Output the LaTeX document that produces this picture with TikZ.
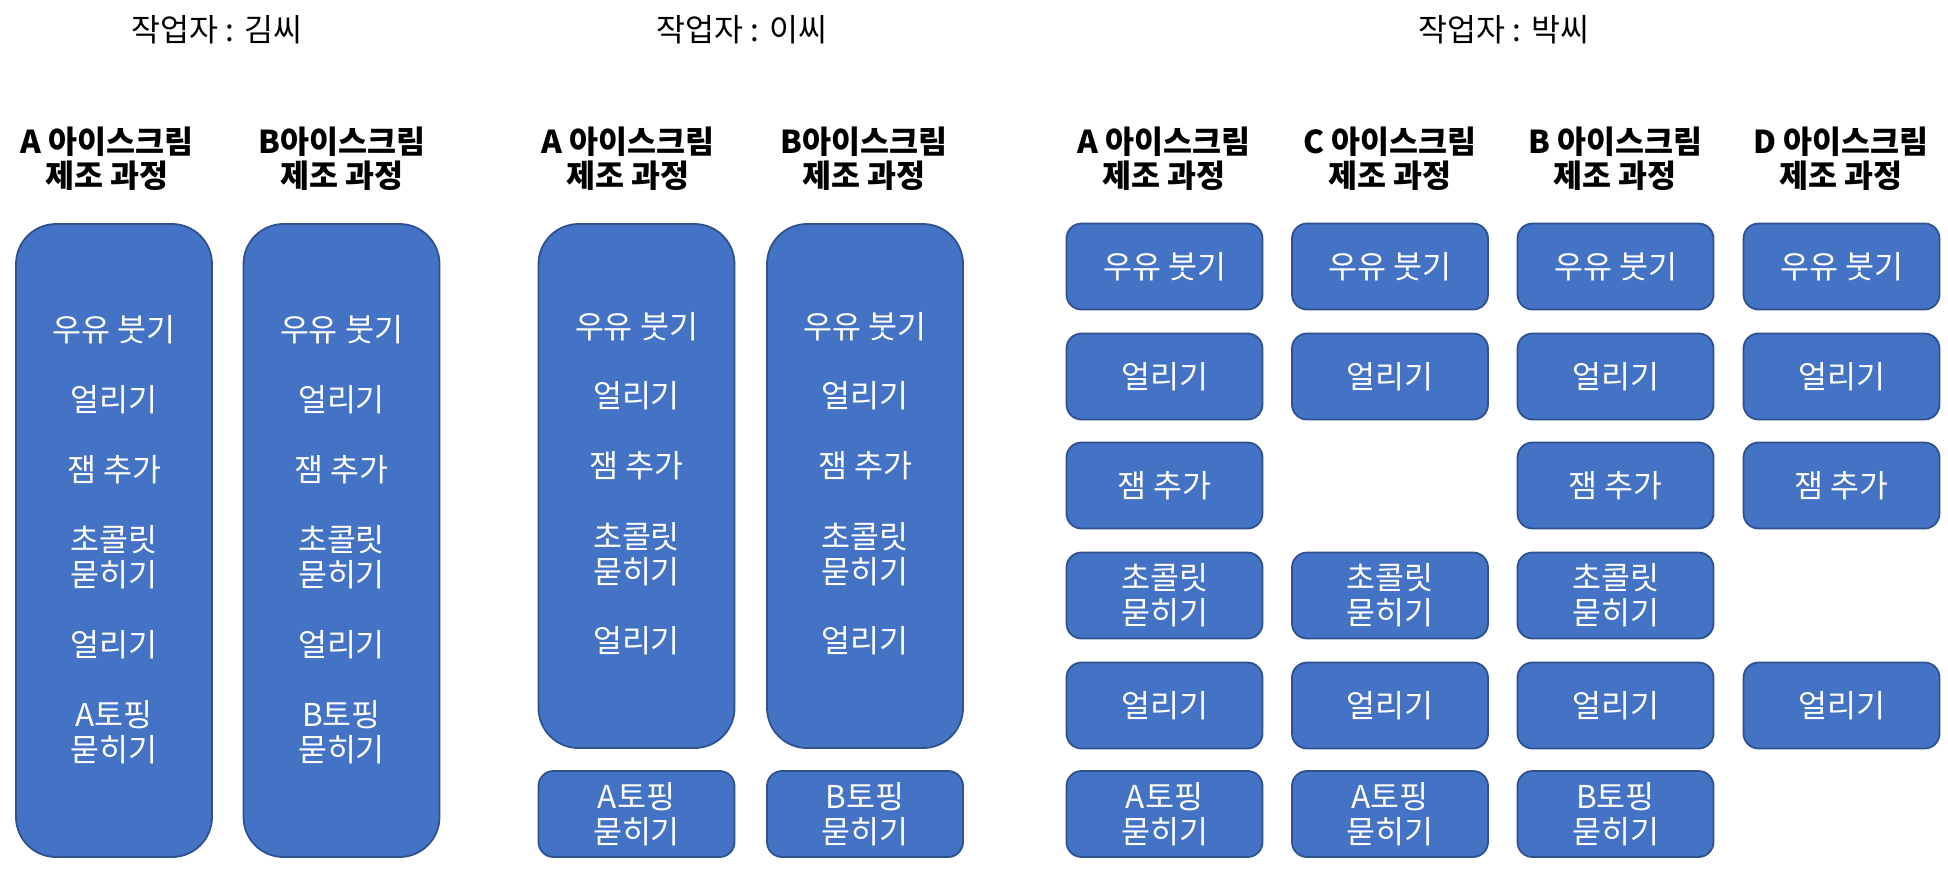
\documentclass[tikz,border=0pt]{standalone}
\usepackage{fontspec}
\setmainfont{Noto Sans CJK KR}
\definecolor{boxfill}{HTML}{4472C4}
\definecolor{boxborder}{HTML}{2F528F}
\tikzset{
  txt/.style={font=\fontsize{31.5}{34.8}\selectfont},
  box/.style={draw=boxborder, fill=boxfill, line width=1.8pt, rounded corners=15pt,
    minimum width=196pt, minimum height=86pt, inner sep=0pt, text=white, align=center, txt},
  bigbox/.style={draw=boxborder, fill=boxfill, line width=1.8pt, rounded corners=40pt,
    minimum width=196pt, inner sep=0pt},
  lbl/.style={text=white, align=center, inner sep=0pt, txt},
  hdr/.style={align=center, inner sep=0pt, font=\bfseries\fontsize{31.5}{33.5}\selectfont},
  ttl/.style={inner sep=0pt, txt}
}
\begin{document}
\begin{tikzpicture}[x=1pt,y=-1pt]
\useasboundingbox (0,0) rectangle (1948,868);
% titles
\node[ttl] (t1) at (217,29.5) {작업자 : 김씨};
\node[ttl] (t2) at (742,29.5) {작업자 : 이씨};
\node[ttl] (t3) at (1504,29.5) {작업자 : 박씨};
% headers
\node[hdr] (h1) at (107,158.5) {A 아이스크림\\제조 과정};
\node[hdr] (h2) at (342,158.5) {B아이스크림\\제조 과정};
\node[hdr] (h3) at (628,158.5) {A 아이스크림\\제조 과정};
\node[hdr] (h4) at (864,158.5) {B아이스크림\\제조 과정};
\node[hdr] (h5) at (1164,158.5) {A 아이스크림\\제조 과정};
\node[hdr] (h6) at (1390,158.5) {C 아이스크림\\제조 과정};
\node[hdr] (h7) at (1615,158.5) {B 아이스크림\\제조 과정};
\node[hdr] (h8) at (1841,158.5) {D 아이스크림\\제조 과정};
% Kim
\node[bigbox, minimum height=633pt] (kA) at (114,540.5) {};
\node[bigbox, minimum height=633pt] (kB) at (341.5,540.5) {};
\foreach \x/\n in {114/ka,341.5/kb}{
  \node[lbl] (\n1) at (\x,330) {우유 붓기};
  \node[lbl] (\n2) at (\x,400) {얼리기};
  \node[lbl] (\n3) at (\x,470) {잼 추가};
  \node[lbl] (\n4) at (\x,557) {초콜릿\\묻히기};
  \node[lbl] (\n5) at (\x,645) {얼리기};
}
\node[lbl] (ka6) at (114,732) {A토핑\\묻히기};
\node[lbl] (kb6) at (341.5,732) {B토핑\\묻히기};
% Lee
\node[bigbox, minimum height=524pt] (lA) at (636.5,486) {};
\node[bigbox, minimum height=524pt] (lB) at (865,486) {};
\foreach \x/\n in {636.5/la,865/lb}{
  \node[lbl] (\n1) at (\x,327) {우유 붓기};
  \node[lbl] (\n2) at (\x,396) {얼리기};
  \node[lbl] (\n3) at (\x,466) {잼 추가};
  \node[lbl] (\n4) at (\x,554) {초콜릿\\묻히기};
  \node[lbl] (\n5) at (\x,641) {얼리기};
}
\node[box] (la6) at (636.5,814) {A토핑\\묻히기};
\node[box] (lb6) at (865,814) {B토핑\\묻히기};
% Park
\node[box] (pa1) at (1164.5,266.5) {우유 붓기};
\node[box] (pa2) at (1164.5,376.5) {얼리기};
\node[box] (pa3) at (1164.5,485.5) {잼 추가};
\node[box] (pa4) at (1164.5,595.5) {초콜릿\\묻히기};
\node[box] (pa5) at (1164.5,705.5) {얼리기};
\node[box] (pa6) at (1164.5,814) {A토핑\\묻히기};
\node[box] (pc1) at (1390,266.5) {우유 붓기};
\node[box] (pc2) at (1390,376.5) {얼리기};
\node[box] (pc4) at (1390,595.5) {초콜릿\\묻히기};
\node[box] (pc5) at (1390,705.5) {얼리기};
\node[box] (pc6) at (1390,814) {A토핑\\묻히기};
\node[box] (pb1) at (1615.5,266.5) {우유 붓기};
\node[box] (pb2) at (1615.5,376.5) {얼리기};
\node[box] (pb3) at (1615.5,485.5) {잼 추가};
\node[box] (pb4) at (1615.5,595.5) {초콜릿\\묻히기};
\node[box] (pb5) at (1615.5,705.5) {얼리기};
\node[box] (pb6) at (1615.5,814) {B토핑\\묻히기};
\node[box] (pd1) at (1841.5,266.5) {우유 붓기};
\node[box] (pd2) at (1841.5,376.5) {얼리기};
\node[box] (pd3) at (1841.5,485.5) {잼 추가};
\node[box] (pd5) at (1841.5,705.5) {얼리기};
\end{tikzpicture}
\end{document}
